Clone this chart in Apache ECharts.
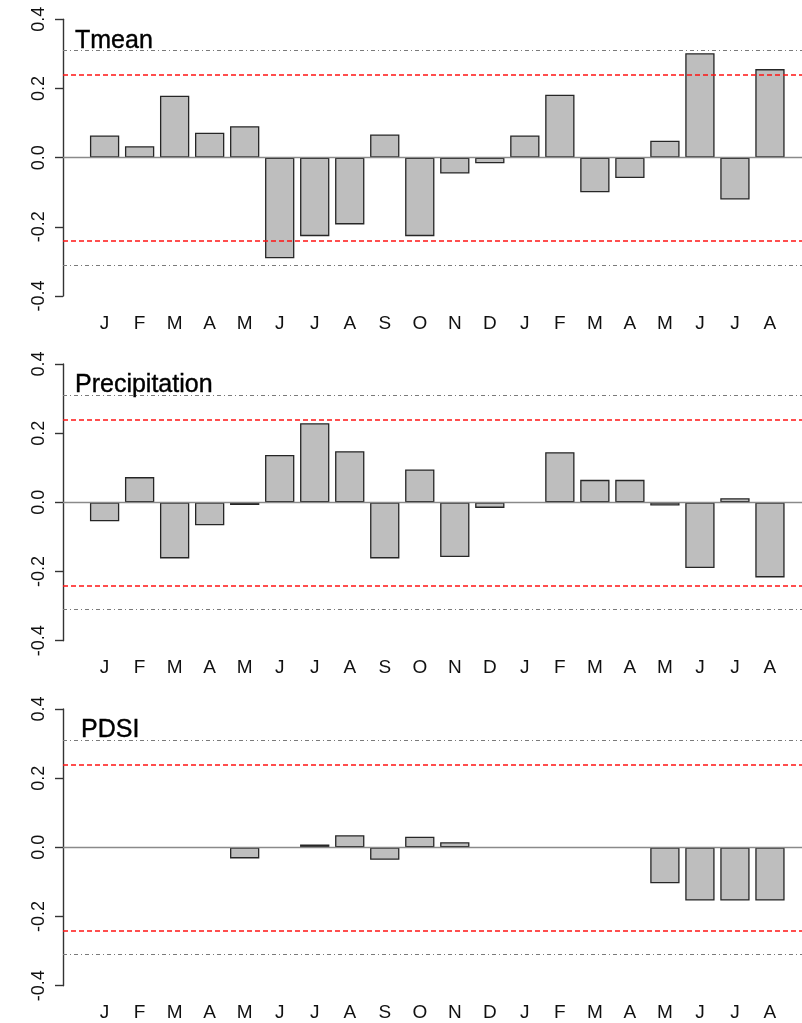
<!DOCTYPE html>
<html>
<head>
<meta charset="utf-8">
<style>
  html, body { margin: 0; padding: 0; background: #fff; }
  #chart { width: 802px; height: 1023px; }
</style>
<script src="https://cdn.jsdelivr.net/npm/echarts@6/dist/echarts.min.js"></script>
</head>
<body>
<div id="chart"></div>
<script>
// Monthly correlation coefficients, previous-year January to current-year August
const months = ['J','F','M','A','M','J','J','A','S','O','N','D','J','F','M','A','M','J','J','A'];
const tmean  = [0.064, 0.033, 0.179, 0.072, 0.091, -0.291, -0.227, -0.193, 0.067, -0.227,
                -0.046, -0.016, 0.064, 0.182, -0.100, -0.059, 0.049, 0.302, -0.121, 0.256];
const precip = [-0.055, 0.073, -0.162, -0.066, -0.008, 0.137, 0.229, 0.148, -0.162, 0.095,
                -0.158, -0.016, 0.000, 0.145, 0.065, 0.065, -0.009, -0.190, 0.012, -0.217];
const pdsi   = [0, 0, 0, 0, -0.032, 0, 0.008, 0.035, -0.036, 0.031,
                0.015, 0, 0, 0, 0, 0, -0.104, -0.154, -0.154, -0.154];
const panelTitles = ['Tmean', 'Precipitation', 'PDSI'];
const panelData = [tmean, precip, pdsi];
// significance thresholds (95% and 99%)
const sig95 = 0.237;
const sig99 = 0.31;
const yTickStep = 0.2;
const yRange = 0.4;

const FONT = '"Liberation Sans", Arial, sans-serif';
const gridTops = [19.3, 364, 709];
const gridHeight = 276.7;
const titleLeft = [75, 75, 81];

const grids = [], xAxes = [], yAxes = [], series = [], titles = [];

const grayDash = { color: '#7a7a7a', width: 1.1, type: [4, 3, 1, 3] };
const redDash = { color: '#ff1414', width: 1.5, type: [5, 3] };

panelData.forEach(function (vals, p) {
  grids.push({ left: 63, right: 0, top: gridTops[p], height: gridHeight, containLabel: false });

  xAxes.push({
    type: 'value', gridIndex: p,
    min: -1.188, max: 19.915,
    splitLine: { show: false },
    axisLine: { show: false },
    axisTick: { show: false },
    axisLabel: {
      customValues: months.map(function (m, i) { return i; }),
      formatter: function (v) { return months[Math.round(v)]; },
      fontFamily: FONT, fontSize: 19, color: '#111', margin: 18
    }
  });

  yAxes.push({
    type: 'value', gridIndex: p,
    min: -yRange, max: yRange, interval: yTickStep,
    splitLine: { show: false },
    axisLine: { show: true, onZero: false, lineStyle: { color: '#333', width: 1.4 } },
    axisTick: { show: true, length: 8, lineStyle: { color: '#333', width: 1.4 } },
    axisLabel: {
      rotate: 90, margin: 15,
      formatter: function (v) { return (Math.abs(v) < 1e-9 ? 0 : v).toFixed(1); },
      fontFamily: FONT, fontSize: 18, color: '#111'
    }
  });

  series.push({
    type: 'bar',
    xAxisIndex: p, yAxisIndex: p,
    data: vals.map(function (v, i) {
      // bars with no height get no outline so the zero line stays even
      return v === 0
        ? { value: [i, v], itemStyle: { borderWidth: 0 } }
        : { value: [i, v] };
    }),
    barWidth: 29.3,
    itemStyle: { color: '#bebebe', borderColor: '#262626', borderWidth: 1.3 },
    emphasis: { disabled: true },
    silent: true,
    markLine: {
      silent: true, symbol: 'none', animation: false,
      label: { show: false },
      data: [
        { yAxis: sig99, lineStyle: grayDash },
        { yAxis: sig95, lineStyle: redDash },
        { yAxis: -sig95, lineStyle: redDash },
        { yAxis: -sig99, lineStyle: grayDash },
        { yAxis: 0, lineStyle: { color: '#8a8a8a', width: 1.3, type: 'solid' } }
      ]
    }
  });

  titles.push({
    text: panelTitles[p],
    left: titleLeft[p], top: gridTops[p] + 9,
    padding: 0,
    textStyle: { fontFamily: FONT, fontSize: 25, fontWeight: 'normal', color: '#000',
                 textBorderColor: '#000', textBorderWidth: 0.4 }
  });
});

const chart = echarts.init(document.getElementById('chart'), null, { renderer: 'canvas' });
chart.setOption({
  animation: false,
  backgroundColor: '#ffffff',
  title: titles,
  grid: grids,
  xAxis: xAxes,
  yAxis: yAxes,
  series: series
});
</script>
</body>
</html>
